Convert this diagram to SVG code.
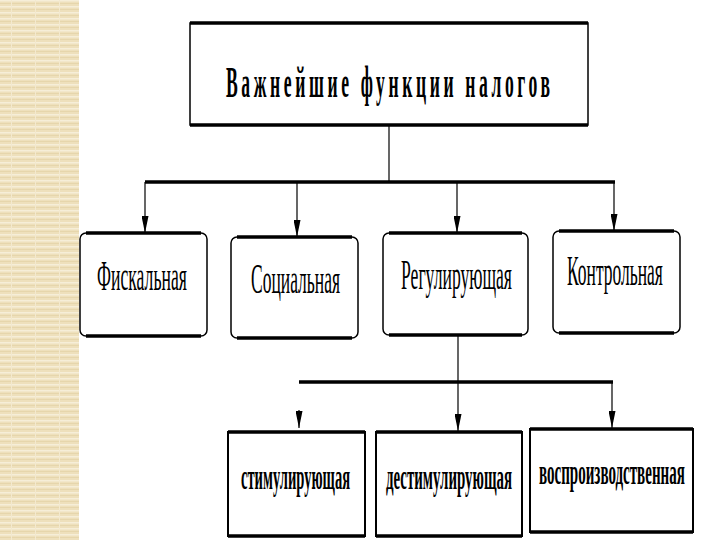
<svg xmlns="http://www.w3.org/2000/svg" width="720" height="540" viewBox="0 0 720 540">
<defs>
<pattern id="stripe" width="24" height="6" patternUnits="userSpaceOnUse">
<rect width="24" height="6" fill="#EEE0BC"/>
<rect y="0" width="24" height="1.5" fill="#F6EED8"/>
<rect y="3" width="24" height="1" fill="#E6D6AC"/>
<rect x="11" width="1" height="6" fill="#F3E9CF"/>
</pattern>
<marker id="arr" viewBox="0 0 17 7" refX="17" refY="3.5" markerWidth="17" markerHeight="7" markerUnits="userSpaceOnUse" orient="auto">
<path d="M0,0 L17,3.5 L0,7 Z" fill="#000"/>
</marker>
<style>
.box{fill:#fff;stroke:#000;stroke-width:1.5}
.edge{stroke:#000;stroke-width:3.5;fill:none}
.line{stroke:#000;stroke-width:1.2;fill:none}
.bar{stroke:#000;stroke-width:3.5;fill:none}
.t{font-family:"Liberation Serif","DejaVu Serif",serif;fill:#000}
.title{font-size:44px;font-weight:bold}
.l1{font-size:42px}
.l2{font-size:35px;font-weight:bold}
</style>
</defs>
<rect x="0" y="0" width="79" height="540" fill="url(#stripe)"/>

<g id="connectors">
<line class="line" x1="389" y1="125" x2="389" y2="182"/>
<line class="bar" x1="145" y1="182" x2="615" y2="182"/>
<line class="line" x1="145" y1="182" x2="145" y2="233" marker-end="url(#arr)"/>
<line class="line" x1="297" y1="182" x2="297" y2="237" marker-end="url(#arr)"/>
<line class="line" x1="457" y1="182" x2="457" y2="233" marker-end="url(#arr)"/>
<line class="line" x1="614" y1="182" x2="614" y2="231" marker-end="url(#arr)"/>
<line class="line" x1="458" y1="335" x2="458" y2="382"/>
<line class="bar" x1="299" y1="382" x2="613" y2="382"/>
<line class="line" x1="299" y1="410" x2="299" y2="428" marker-end="url(#arr)"/>
<line class="line" x1="458" y1="382" x2="458" y2="431" marker-end="url(#arr)"/>
<line class="line" x1="612" y1="382" x2="612" y2="428" marker-end="url(#arr)"/>
</g>

<g id="node-main">
<rect class="box" x="190" y="23" width="398" height="102"/>
<line class="edge" x1="190" y1="23" x2="588" y2="23"/>
<line class="edge" x1="190" y1="125" x2="588" y2="125"/>
<text class="t title" transform="translate(226,97) scale(0.4,1)" x="0" y="0" textLength="810" lengthAdjust="spacing">Важнейшие функции налогов</text>
</g>

<g id="node-fiscal">
<rect class="box" x="80" y="233" width="127" height="103" rx="6"/>
<line class="edge" x1="86" y1="233" x2="201" y2="233"/>
<line class="edge" x1="86" y1="336" x2="201" y2="336"/>
<text class="t l1" transform="translate(97,290) scale(0.43,1)" x="0" y="0" textLength="209" lengthAdjust="spacingAndGlyphs">Фискальная</text>
</g>

<g id="node-social">
<rect class="box" x="231" y="237" width="127" height="101" rx="6"/>
<line class="edge" x1="237" y1="237" x2="352" y2="237"/>
<line class="edge" x1="237" y1="338" x2="352" y2="338"/>
<text class="t l1" transform="translate(251,293) scale(0.43,1)" x="0" y="0" textLength="207" lengthAdjust="spacingAndGlyphs">Социальная</text>
</g>

<g id="node-regul">
<rect class="box" x="383" y="233" width="145" height="102" rx="6"/>
<line class="edge" x1="389" y1="233" x2="522" y2="233"/>
<line class="edge" x1="389" y1="335" x2="522" y2="335"/>
<text class="t l1" transform="translate(401,289) scale(0.43,1)" x="0" y="0" textLength="258" lengthAdjust="spacingAndGlyphs">Регулирующая</text>
</g>

<g id="node-control">
<rect class="box" x="553" y="231" width="127" height="102" rx="6"/>
<line class="edge" x1="559" y1="231" x2="674" y2="231"/>
<line class="edge" x1="559" y1="333" x2="674" y2="333"/>
<text class="t l1" transform="translate(567,285) scale(0.43,1)" x="0" y="0" textLength="223" lengthAdjust="spacingAndGlyphs">Контрольная</text>
</g>

<g id="node-stim">
<rect class="box" x="228" y="432" width="137" height="104" style="stroke-width:2"/>
<line class="edge" x1="228" y1="432" x2="365" y2="432"/>
<line class="edge" x1="228" y1="536" x2="365" y2="536"/>
<text class="t l2" transform="translate(241,489) scale(0.46,1)" x="0" y="0" textLength="237" lengthAdjust="spacingAndGlyphs">стимулирующая</text>
</g>

<g id="node-destim">
<rect class="box" x="376" y="432" width="146" height="104" style="stroke-width:2"/>
<line class="edge" x1="376" y1="432" x2="522" y2="432"/>
<line class="edge" x1="376" y1="536" x2="522" y2="536"/>
<text class="t l2" transform="translate(386,489) scale(0.46,1)" x="0" y="0" textLength="274" lengthAdjust="spacingAndGlyphs">дестимулирующая</text>
</g>

<g id="node-reprod">
<rect class="box" x="530" y="429" width="163" height="103" style="stroke-width:2"/>
<line class="edge" x1="530" y1="429" x2="693" y2="429"/>
<line class="edge" x1="530" y1="532" x2="693" y2="532"/>
<text class="t l2" transform="translate(539,484) scale(0.46,1)" x="0" y="0" textLength="317" lengthAdjust="spacingAndGlyphs">воспроизводственная</text>
</g>
</svg>
